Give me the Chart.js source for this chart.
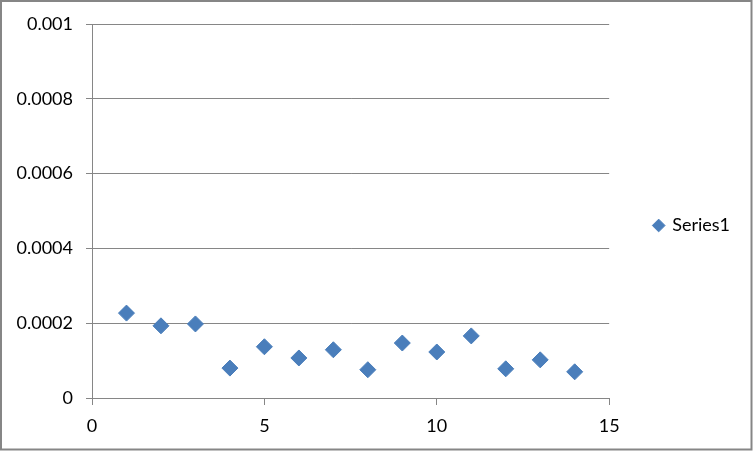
<!DOCTYPE html>
<html>
<head>
<meta charset="utf-8">
<script src="https://cdn.jsdelivr.net/npm/chart.js@4"></script>
<style>
  html, body { margin: 0; padding: 0; background: #fff; }
  #wrap { width: 753px; height: 451px; }
</style>
</head>
<body>
<div id="wrap"><canvas id="chart" width="753" height="451"></canvas></div>
<script>
// values
const xValues = [1, 2, 3, 4, 5, 6, 7, 8, 9, 10, 11, 12, 13, 14];
const yValues = [0.000227, 0.000193, 0.000198, 0.00008, 0.000137, 0.000107, 0.000129,
                 0.0000756, 0.000147, 0.000123, 0.000166, 0.000078, 0.000102, 0.00007];
const xTicks = [0, 5, 10, 15];
const yTicks = [0, 0.0002, 0.0004, 0.0006, 0.0008, 0.001];
const seriesName = "Series1";

const gridColor = "#868686";
const markerColor = "#4a7ebb";
const fontFamily = "Lato, 'Liberation Sans', sans-serif";
const fontSize = 18;

// grey frame round the whole chart
const frame = {
    id: "frame",
    beforeDraw(chart) {
        const ctx = chart.ctx;
        ctx.save();
        ctx.fillStyle = "#fff";
        ctx.fillRect(0, 0, chart.width, chart.height);
        ctx.strokeStyle = gridColor;
        ctx.lineWidth = 2;
        ctx.strokeRect(1, 1, chart.width - 2.5, chart.height - 2.5);
        ctx.restore();
    }
};

function fmt(v) {
    return String(Number(v.toPrecision(6)));
}

document.addEventListener("DOMContentLoaded", () => {
    const points = xValues.map((x, i) => ({ x: x, y: yValues[i] }));

    new Chart(document.getElementById("chart"), {
        type: "scatter",
        data: {
            datasets: [{
                label: seriesName,
                data: points,
                pointStyle: "rectRot",
                pointRadius: 8,
                pointHoverRadius: 8,
                backgroundColor: markerColor,
                borderColor: markerColor,
                borderWidth: 1
            }]
        },
        plugins: [frame],
        options: {
            responsive: false,
            animation: false,
            devicePixelRatio: 1,
            layout: { padding: { top: 0, bottom: 0, left: 0, right: 13 } },
            font: { family: fontFamily },
            plugins: {
                tooltip: { enabled: false },
                // empty title only keeps 24px free above the plot, so the
                // legend (full height) stays centred on the whole canvas
                title: {
                    display: true,
                    text: "",
                    padding: 0,
                    font: { size: 20, lineHeight: 1.2 }
                },
                legend: {
                    position: "right",
                    labels: {
                        usePointStyle: true,
                        boxWidth: 9,
                        boxHeight: 9,
                        padding: 45,
                        color: "#000",
                        font: { family: fontFamily, size: fontSize }
                    }
                }
            },
            scales: {
                x: {
                    type: "linear",
                    min: 0,
                    max: 15,
                    afterFit: (s) => { s.height = 53; },
                    afterBuildTicks: (s) => { s.ticks = xTicks.map(v => ({ value: v })); },
                    grid: {
                        drawOnChartArea: false,
                        drawTicks: true,
                        tickLength: 7,
                        color: gridColor
                    },
                    border: { display: true, color: gridColor },
                    ticks: {
                        color: "#000",
                        padding: 10,
                        maxRotation: 0,
                        font: { family: fontFamily, size: fontSize },
                        callback: (v) => fmt(v)
                    }
                },
                y: {
                    type: "linear",
                    min: 0,
                    max: 0.001,
                    afterFit: (s) => { s.width = 92; },
                    afterBuildTicks: (s) => { s.ticks = yTicks.map(v => ({ value: v })); },
                    grid: {
                        drawTicks: true,
                        tickLength: 6,
                        color: gridColor
                    },
                    border: { display: true, color: gridColor },
                    ticks: {
                        color: "#000",
                        padding: 13,
                        font: { family: fontFamily, size: fontSize },
                        callback: (v) => fmt(v)
                    }
                }
            }
        }
    });
});
</script>
</body>
</html>
